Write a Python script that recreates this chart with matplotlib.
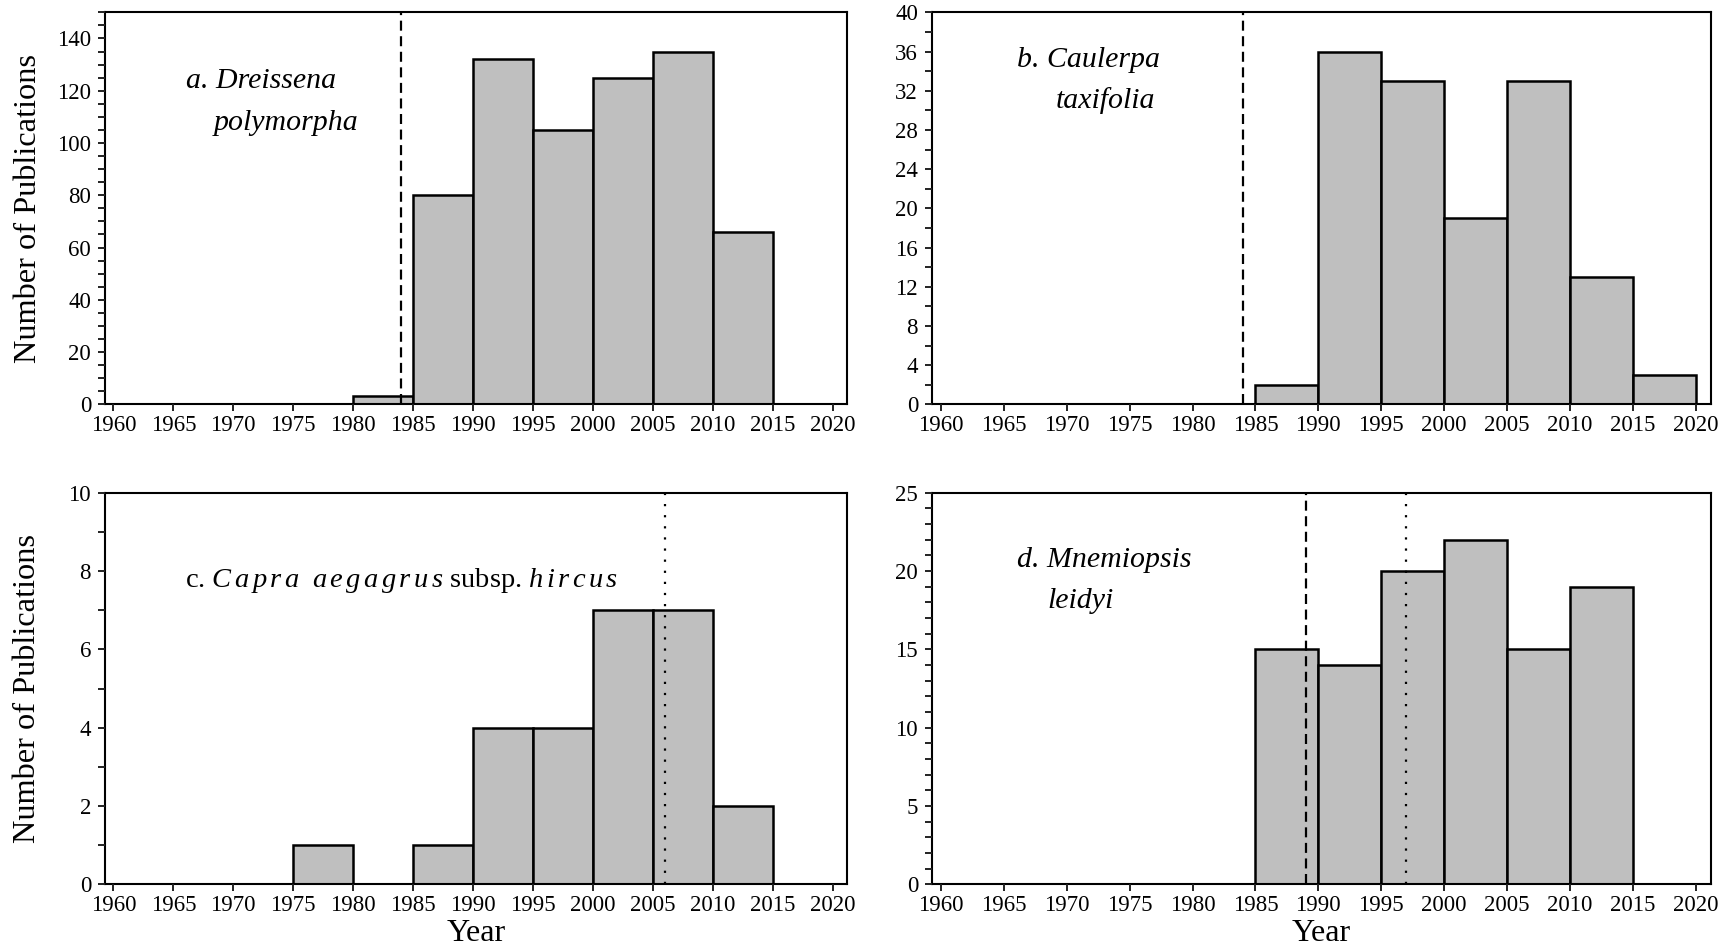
import matplotlib
matplotlib.use('Agg')
import matplotlib.pyplot as plt
from matplotlib.ticker import MultipleLocator

plt.rcParams['font.family'] = 'Liberation Serif'
plt.rcParams['mathtext.fontset'] = 'custom'
plt.rcParams['mathtext.rm'] = 'Liberation Serif'
plt.rcParams['mathtext.it'] = 'Liberation Serif:italic'

# 5-year bins (left edge of each bin)
bins = [1960, 1965, 1970, 1975, 1980, 1985, 1990, 1995, 2000, 2005, 2010, 2015]

dreissena = [0, 0, 0, 0, 3, 80, 132, 105, 125, 135, 66, 0]
caulerpa = [0, 0, 0, 0, 0, 2, 36, 33, 19, 33, 13, 3]
capra = [0, 0, 0, 1, 0, 1, 4, 4, 7, 7, 2, 0]
mnemiopsis = [0, 0, 0, 0, 0, 15, 14, 20, 22, 15, 19, 0]

# reference years: dashed = first record, dotted = second event
dreissena_dash = 1984
caulerpa_dash = 1984
capra_dot = 2006
mnemiopsis_dash = 1989
mnemiopsis_dot = 1997

year_ticks = list(range(1960, 2021, 5))

W, H = 1732, 948
fig = plt.figure(figsize=(W / 100, H / 100), dpi=100)


def px_axes(x0, x1, y0, y1):
    return fig.add_axes([x0 / W, 1 - y1 / H, (x1 - x0) / W, (y1 - y0) / H])


def style(ax, ymax, major, minor):
    ax.set_xlim(1959.3, 2021.2)
    ax.set_ylim(0, ymax)
    ax.set_xticks(year_ticks)
    ax.yaxis.set_major_locator(MultipleLocator(major))
    ax.yaxis.set_minor_locator(MultipleLocator(minor))
    ax.tick_params(axis='both', which='both', direction='out', length=5,
                   width=1.4, labelsize=16.5, pad=3, color='#222222')
    ax.tick_params(axis='y', pad=5)
    for s in ax.spines.values():
        s.set_linewidth(1.5)
    ax.set_axisbelow(False)


def draw_bars(ax, counts):
    xs = [b for b, c in zip(bins, counts) if c > 0]
    hs = [c for c in counts if c > 0]
    ax.bar(xs, hs, width=5, align='edge', color='#bfbfbf',
           edgecolor='black', linewidth=1.8, zorder=2)


dash = (0, (4.5, 2.5))
dot = (0, (1, 4))
note = 21.5

# a. Dreissena polymorpha
ax1 = px_axes(105, 847, 12.3, 404.3)
draw_bars(ax1, dreissena)
ax1.axvline(dreissena_dash, color='black', lw=1.6, ls=dash, zorder=3)
style(ax1, 150, 20, 5)
ax1.set_ylabel('Number of Publications', fontsize=23.3, labelpad=10)
ax1.text(0.109, 0.807, 'a. Dreissena', style='italic', fontsize=note,
         transform=ax1.transAxes, va='baseline')
ax1.text(0.147, 0.700, 'polymorpha', style='italic', fontsize=note,
         transform=ax1.transAxes, va='baseline')

# b. Caulerpa taxifolia
ax2 = px_axes(932, 1711, 12.3, 404.3)
draw_bars(ax2, caulerpa)
ax2.axvline(caulerpa_dash, color='black', lw=1.6, ls=dash, zorder=3)
style(ax2, 40, 4, 2)
ax2.text(0.109, 0.860, 'b. Caulerpa', style='italic', fontsize=note,
         transform=ax2.transAxes, va='baseline')
ax2.text(0.159, 0.756, 'taxifolia', style='italic', fontsize=note,
         transform=ax2.transAxes, va='baseline')

# c. Capra aegagrus subsp. hircus
ax3 = px_axes(105, 847, 492.7, 884.3)
draw_bars(ax3, capra)
ax3.axvline(capra_dot, color='black', lw=1.6, ls=dot, zorder=3)
style(ax3, 10, 2, 1)
ax3.set_ylabel('Number of Publications', fontsize=23.3, labelpad=19)
ax3.set_xlabel('Year', fontsize=23, labelpad=2)
ax3.text(0.108, 0.760,
         r'c. $\mathit{C\,a\,p\,r\,a\ \ a\,e\,g\,a\,g\,r\,u\,s}$ subsp. $\mathit{h\,i\,r\,c\,u\,s}$',
         fontsize=20.5, transform=ax3.transAxes, va='baseline')

# d. Mnemiopsis leidyi
ax4 = px_axes(932, 1711, 492.7, 884.3)
draw_bars(ax4, mnemiopsis)
ax4.axvline(mnemiopsis_dash, color='black', lw=1.6, ls=dash, zorder=3)
ax4.axvline(mnemiopsis_dot, color='black', lw=1.6, ls=dot, zorder=3)
style(ax4, 25, 5, 1)
ax4.set_xlabel('Year', fontsize=23, labelpad=2)
ax4.text(0.109, 0.810, 'd. Mnemiopsis', style='italic', fontsize=note,
         transform=ax4.transAxes, va='baseline')
ax4.text(0.148, 0.706, 'leidyi', style='italic', fontsize=note,
         transform=ax4.transAxes, va='baseline')

fig.savefig('out.png', dpi=100, facecolor='white')
